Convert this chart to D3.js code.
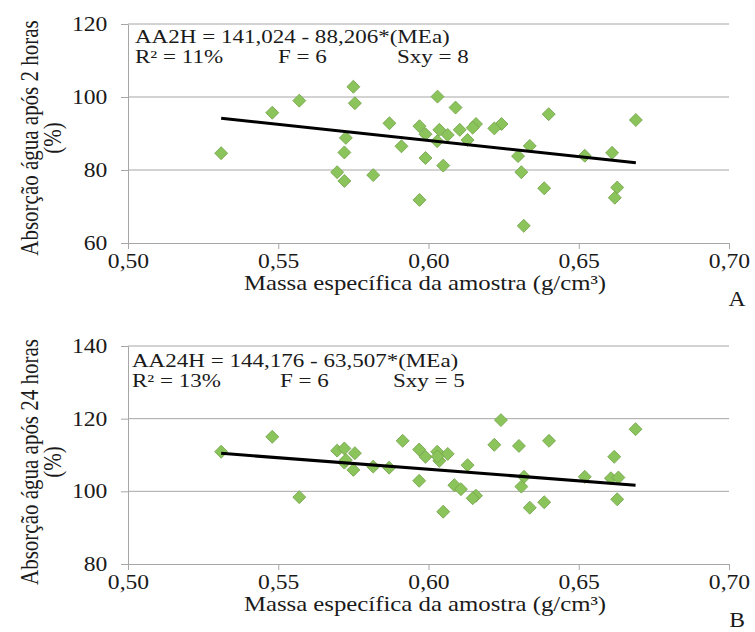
<!DOCTYPE html>
<html>
<head>
<meta charset="utf-8">
<script src="https://cdn.jsdelivr.net/npm/d3@7"></script>
<style>
  body { margin: 0; background: #fff; }
  svg text { font-family: "Liberation Serif", "Times New Roman", serif; fill: #1a1a1a; }
</style>
</head>
<body>
<svg id="chart" width="755" height="632"></svg>
<script>
// painel A - absorcao 2 horas
const massaA = [0.531, 0.548, 0.557, 0.575, 0.5755, 0.587, 0.597, 0.599, 0.591, 0.5725,
  0.572, 0.599, 0.5696, 0.572, 0.5816, 0.597, 0.603, 0.609, 0.640, 0.669,
  0.6036, 0.6158, 0.6147, 0.6243, 0.6219, 0.6104, 0.6064, 0.6029, 0.6130, 0.6337,
  0.6298, 0.6520, 0.6611, 0.6049, 0.6309, 0.6385, 0.6628, 0.6620, 0.6317];
const aa2h = [84.6, 95.7, 99.0, 102.8, 98.3, 92.8, 92.0, 89.8, 86.5, 88.8,
  84.8, 83.3, 79.4, 77.0, 78.6, 71.8, 100.1, 97.1, 95.3, 93.7,
  91.0, 92.6, 91.6, 92.6, 91.4, 91.0, 89.6, 87.9, 88.2, 86.6,
  83.8, 83.9, 84.7, 81.2, 79.4, 75.0, 75.2, 72.4, 64.7];

// painel B - absorcao 24 horas
const massaB = [0.531, 0.548, 0.557, 0.5696, 0.572, 0.5755, 0.572, 0.575, 0.5816, 0.5869,
  0.5914, 0.5969, 0.599, 0.5969, 0.6241, 0.6689, 0.6219, 0.6301, 0.6401, 0.6029,
  0.6064, 0.6036, 0.6618, 0.6130, 0.6318, 0.6520, 0.6607, 0.6632, 0.6309, 0.6086,
  0.6108, 0.6158, 0.6147, 0.6385, 0.6337, 0.6628, 0.6049, 0.5725, 0.6030];
const aa24h = [110.9, 115.0, 98.4, 111.2, 111.8, 110.5, 107.9, 105.9, 106.8, 106.5,
  113.9, 111.5, 109.5, 102.9, 119.6, 117.1, 112.8, 112.5, 113.9, 110.9,
  110.3, 108.4, 109.5, 107.2, 104.0, 104.0, 103.6, 103.8, 101.3, 101.7,
  100.6, 98.8, 98.1, 97.0, 95.5, 97.8, 94.4, 108.6, 109.6];

const xTicks = [0.50, 0.55, 0.60, 0.65, 0.70];
const yTicksA = [60, 80, 100, 120];
const yTicksB = [80, 100, 120, 140];

// equacoes ajustadas (coeficientes impressos no grafico)
const coefA = [141.024, -88.206];
const coefB = [144.176, -63.507];
const textoA = ["AA2H = 141,024 - 88,206*(MEa)", "R² = 11%", "F = 6", "Sxy = 8"];
const textoB = ["AA24H = 144,176 - 63,507*(MEa)", "R² = 13%", "F = 6", "Sxy = 5"];

const xTitle = "Massa específica da amostra (g/cm³)";
const yTitleA = "Absorção água após 2 horas";
const yTitleB = "Absorção água após 24 horas";

const svg = d3.select('#chart');
const SX = 1.18;   // a figura original esta esticada na horizontal
const gridColor = '#a6a6a6';
const fmt = (d) => d3.format('.2f')(d).replace('.', ',');

function drawPanel(p) {
  const x = d3.scaleLinear().domain([0.5, 0.7]).range([128, 729]);
  const y = d3.scaleLinear().domain(d3.extent(p.yTicks)).range([p.bottom, p.top]);
  const g = svg.append('g');

  // linhas de grade
  g.append('g').selectAll('line')
    .data(p.yTicks.slice(1))
    .enter().append('line')
    .attr('x1', x(0.5)).attr('x2', x(0.7))
    .attr('y1', (d) => y(d)).attr('y2', (d) => y(d))
    .attr('stroke', gridColor).attr('stroke-width', 1);

  const xAxis = g.append('g')
    .attr('transform', 'translate(0,' + p.bottom + ')')
    .call(d3.axisBottom(x).tickValues(xTicks).tickSize(6).tickSizeOuter(0).tickPadding(5).tickFormat(fmt));
  const yAxis = g.append('g')
    .attr('transform', 'translate(' + x(0.5) + ',0)')
    .call(d3.axisLeft(y).tickValues(p.yTicks).tickSize(7).tickSizeOuter(0).tickPadding(11));

  [xAxis, yAxis].forEach((a) => {
    a.selectAll('path, line').attr('stroke', gridColor);
    a.selectAll('text')
      .attr('font-size', 20)
      .attr('fill', '#1a1a1a')
      .style('font-family', '"Liberation Serif", serif');
  });
  xAxis.selectAll('text').attr('transform', 'scale(' + SX + ',1)');
  yAxis.selectAll('text')
    .attr('x', -17.5)
    .attr('transform', 'scale(' + SX + ',1)');

  // pontos
  const pts = p.xs.map((v, i) => ({ x: v, y: p.ys[i] }));
  g.append('g').selectAll('path')
    .data(pts)
    .enter().append('path')
    .attr('d', d3.symbol(d3.symbolSquare, 84))
    .attr('transform', (d) => 'translate(' + x(d.x) + ',' + y(d.y) + ') rotate(45)')
    .attr('fill', '#8cc45c')
    .attr('stroke', '#72a34a')
    .attr('stroke-width', 0.8);

  // reta de regressao
  const ext = d3.extent(p.xs);
  const line = d3.line().x((d) => x(d)).y((d) => y(p.coef[0] + p.coef[1] * d));
  g.append('path')
    .datum(ext)
    .attr('d', line)
    .attr('stroke', '#000')
    .attr('stroke-width', 3)
    .attr('fill', 'none');

  function label(txt, tx, ty, size, anchor, sx) {
    g.append('text')
      .attr('transform', 'translate(' + tx + ',' + ty + ') scale(' + (sx || SX) + ',1)')
      .attr('dy', '0.35em')
      .attr('font-size', size)
      .attr('text-anchor', anchor || 'start')
      .text(txt);
  }
  // textos da equacao
  const eqSX = 1.28;
  label(p.texto[0], p.eqX, p.eqY, 18, 'start', eqSX);
  label(p.texto[1], p.eqX, p.eqY + p.eqGap, 18, 'start', eqSX);
  label(p.texto[2], p.fX, p.eqY + p.eqGap, 18, 'start', eqSX);
  label(p.texto[3], p.sX, p.eqY + p.eqGap, 18, 'start', eqSX);

  // titulos
  label(xTitle, 425, p.bottom + 40, 21, 'middle');
  label(p.letter, 737, p.bottom + 56, 20, 'middle');

  const cy = p.yCenter;
  [[p.yTitle, 29], ['(%)', 52]].forEach((t) => {
    g.append('text')
      .attr('transform', 'translate(' + t[1] + ',' + cy + ') rotate(-90) scale(1,' + SX + ')')
      .attr('dy', '0.35em')
      .attr('font-size', 21)
      .attr('text-anchor', 'middle')
      .text(t[0]);
  });
}

drawPanel({
  xs: massaA, ys: aa2h, yTicks: yTicksA, coef: coefA, texto: textoA,
  top: 24, bottom: 243, eqX: 135, eqY: 37, eqGap: 20, fX: 278, sX: 397,
  yTitle: yTitleA, yCenter: 138, letter: 'A'
});
drawPanel({
  xs: massaB, ys: aa24h, yTicks: yTicksB, coef: coefB, texto: textoB,
  top: 346, bottom: 564, eqX: 132, eqY: 361, eqGap: 20, fX: 280, sX: 393,
  yTitle: yTitleB, yCenter: 462, letter: 'B'
});
</script>
</body>
</html>
